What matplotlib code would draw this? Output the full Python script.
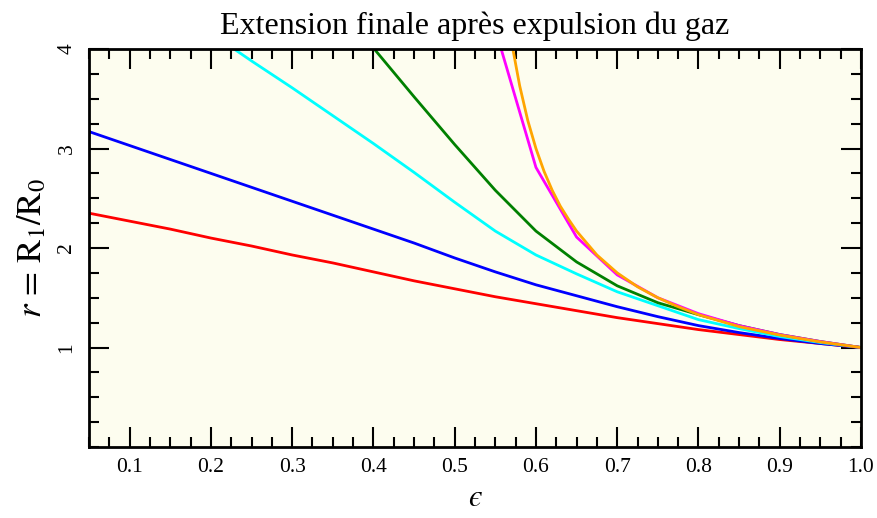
import matplotlib
matplotlib.use("Agg")
import matplotlib.pyplot as plt
from matplotlib.ticker import MultipleLocator

plt.rcParams['font.family'] = ['Liberation Serif', 'DejaVu Serif']
plt.rcParams['mathtext.fontset'] = 'stix'
plt.rcParams['xtick.labelsize'] = 15.5
plt.rcParams['ytick.labelsize'] = 15.5

# --- data ---
eps_red = [0.05, 0.1, 0.15, 0.2, 0.25, 0.3, 0.35, 0.4, 0.45, 0.5, 0.55, 0.6, 0.65, 0.7, 0.75, 0.8, 0.85, 0.9, 0.95, 1.0]
r_red = [2.35, 2.27, 2.19, 2.10, 2.02, 1.93, 1.85, 1.76, 1.67, 1.59, 1.51, 1.44, 1.37, 1.30, 1.24, 1.18, 1.13, 1.08, 1.04, 1.00]

eps_blue = [0.05, 0.1, 0.15, 0.2, 0.25, 0.3, 0.35, 0.4, 0.45, 0.5, 0.55, 0.6, 0.65, 0.7, 0.75, 0.8, 0.85, 0.9, 0.95, 1.0]
r_blue = [3.17, 3.03, 2.89, 2.75, 2.61, 2.47, 2.33, 2.19, 2.05, 1.90, 1.76, 1.63, 1.52, 1.41, 1.31, 1.22, 1.15, 1.09, 1.04, 1.00]

eps_cyan = [0.2, 0.25, 0.3, 0.35, 0.4, 0.45, 0.5, 0.55, 0.6, 0.65, 0.7, 0.75, 0.8, 0.85, 0.9, 0.95, 1.0]
r_cyan = [4.16, 3.88, 3.61, 3.33, 3.05, 2.76, 2.46, 2.17, 1.93, 1.74, 1.56, 1.42, 1.28, 1.19, 1.11, 1.05, 1.00]

eps_green = [0.4, 0.45, 0.5, 0.55, 0.6, 0.65, 0.7, 0.75, 0.8, 0.85, 0.9, 0.95, 1.0]
r_green = [4.01, 3.52, 3.04, 2.58, 2.17, 1.86, 1.62, 1.45, 1.33, 1.22, 1.13, 1.06, 1.00]

eps_magenta = [0.55, 0.6, 0.65, 0.7, 0.75, 0.8, 0.85, 0.9, 0.95, 1.0]
r_magenta = [4.20, 2.81, 2.11, 1.73, 1.50, 1.34, 1.22, 1.13, 1.06, 1.00]

eps_orange = [0.57, 0.58, 0.59, 0.60, 0.61, 0.62, 0.63, 0.64, 0.65, 0.675, 0.70, 0.725, 0.75, 0.775, 0.80, 0.85, 0.90, 0.95, 1.0]
r_orange = [4.07, 3.63, 3.28, 3.00, 2.77, 2.58, 2.42, 2.29, 2.17, 1.93, 1.75, 1.61, 1.50, 1.41, 1.33, 1.21, 1.125, 1.056, 1.00]

x_major = [0.1, 0.2, 0.3, 0.4, 0.5, 0.6, 0.7, 0.8, 0.9, 1.0]
x_labels = ['0.1', '0.2', '0.3', '0.4', '0.5', '0.6', '0.7', '0.8', '0.9', '1.0']
y_major = [1, 2, 3, 4]
y_labels = ['1', '2', '3', '4']

fig = plt.figure(figsize=(8.77, 5.18), dpi=100)
ax = fig.add_axes([89/877, 1-447/518, (861-89)/877, (447-49)/518])
ax.set_facecolor('#FDFDEF')

series = [
    (eps_red, r_red, '#FF0000'),
    (eps_blue, r_blue, '#0000FF'),
    (eps_cyan, r_cyan, '#00FFFF'),
    (eps_green, r_green, '#008000'),
    (eps_magenta, r_magenta, '#FF00FF'),
    (eps_orange, r_orange, '#FFA500'),
]
for xs, ys, c in series:
    ax.plot(xs, ys, color=c, lw=2.0, solid_joinstyle='miter')

ax.set_xlim(0.05, 1.0)
ax.set_ylim(0, 4)
ax.set_xticks(x_major, x_labels)
ax.set_yticks(y_major, y_labels)
ax.xaxis.set_minor_locator(MultipleLocator(0.025))
ax.yaxis.set_minor_locator(MultipleLocator(0.25))

ax.tick_params(which='both', direction='in', top=True, right=True, width=1.5, colors='black')
ax.tick_params(which='major', length=14.5)
ax.tick_params(which='minor', length=7.2)
ax.tick_params(axis='x', which='major', pad=8, labelsize=15.5)
ax.tick_params(axis='y', which='major', pad=9, labelsize=15.5, labelrotation=90)
for lab in ax.get_yticklabels():
    lab.set_verticalalignment('center')
for s in ax.spines.values():
    s.set_linewidth(2)

ax.set_title('Extension finale après expulsion du gaz', fontsize=23, pad=11)
ax.set_xlabel('$\u03f5$', fontsize=22, labelpad=5)
ax.set_ylabel(r'$r\,=\,\mathrm{R}_1/\mathrm{R}_0$', fontsize=25, labelpad=6)

fig.savefig('out.png', dpi=100)
